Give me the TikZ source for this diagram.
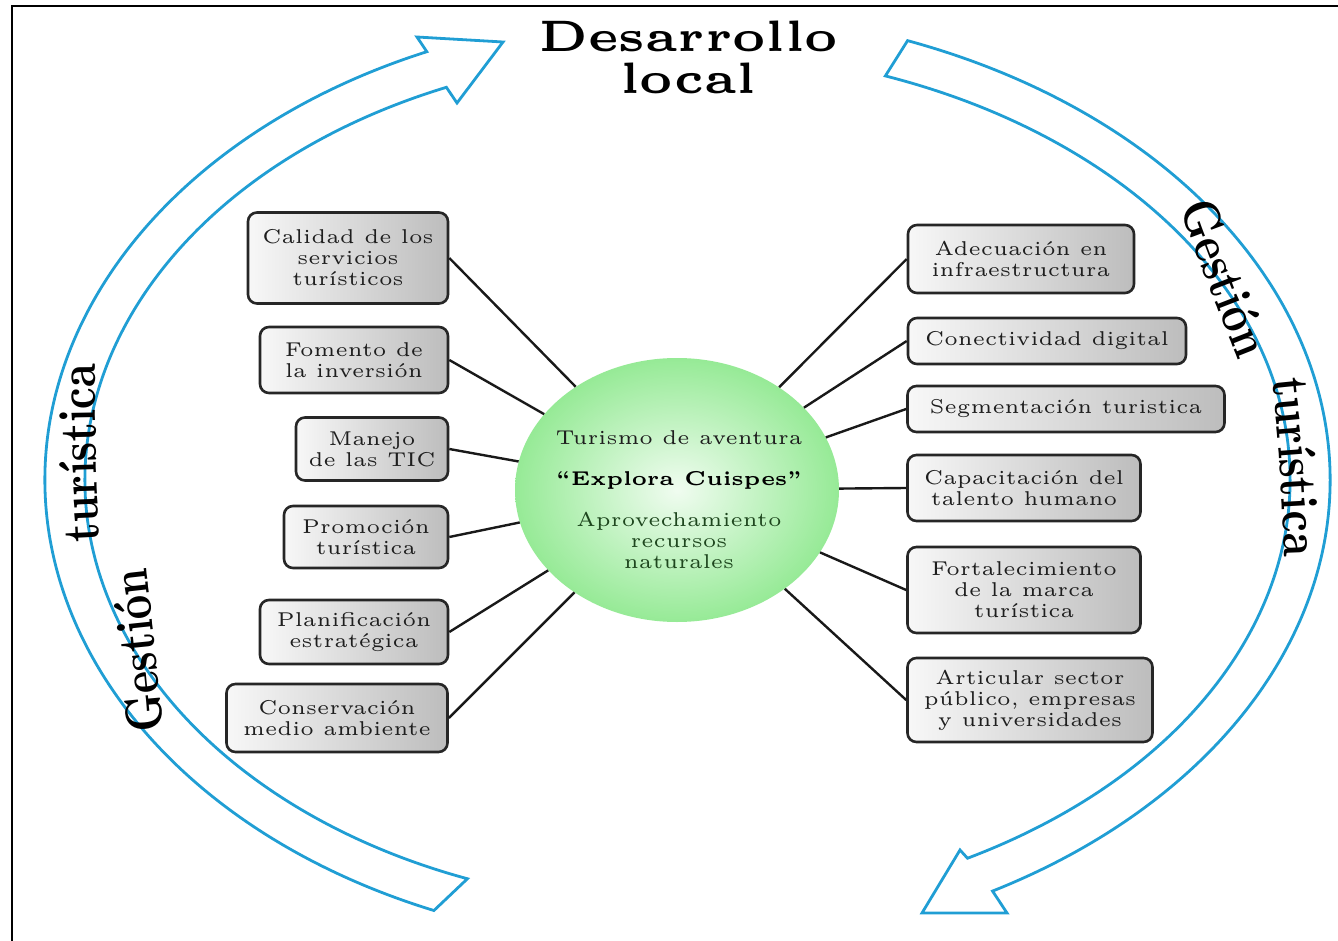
\documentclass[tikz,border=0pt]{standalone}
\usepackage{fontspec}
\newfontfamily\cmsmall{lmroman5-regular.otf}[BoldFont=lmroman5-bold.otf]
\newfontfamily\arcfont{lmroman10-bold.otf}[FakeStretch=0.82]
\usetikzlibrary{shapes.geometric,decorations.text}
\definecolor{arrowblue}{RGB}{32,158,212}
\definecolor{boxtext}{RGB}{30,30,30}
\definecolor{greentext}{RGB}{30,70,30}
\definecolor{ballout}{RGB}{150,234,150}
\definecolor{ballin}{RGB}{240,252,240}
\tikzset{
  box/.style={draw=black!85, line width=2.6pt, rounded corners=9pt,
    left color=gray!6, right color=gray!52, align=center, inner sep=0pt,
    font=\cmsmall\fontsize{20}{21}\selectfont, text=boxtext},
  link/.style={line width=2.4pt, draw=black!90},
  band/.style={draw=arrowblue, line width=2.8pt, line join=miter},
  arctext/.style={decorate, decoration={text along path, text align=center,
    text={|\arcfont\fontsize{52}{52}\selectfont|#1}}}
}
\begin{document}
\begin{tikzpicture}[x=1pt,y=1pt]
\useasboundingbox (0,0) rectangle (1338,-941);
% frame
\draw[line width=2.2pt] (12,-941) -- (12,-6) -- (1338,-6);
% circular arrows
\draw[band] ([shift={(675,-480)}]247.5:630 and 466)
  arc[start angle=247.5, end angle=113.2, x radius=630, y radius=466]
  -- (417,-37) -- (503,-42) -- (457,-103)
  -- ([shift={(675,-480)}]112.8:590 and 426)
  arc[start angle=112.8, end angle=249.4, x radius=590, y radius=426] -- cycle;
\draw[band] ([shift={(675,-480)}]69.2:655 and 470)
  arc[start angle=69.2, end angle=-61, x radius=655, y radius=470]
  -- (1007,-913) -- (922,-913) -- (960,-850)
  -- ([shift={(675,-480)}]-61.6:615 and 430)
  arc[start angle=-61.6, end angle=70, x radius=615, y radius=430] -- cycle;
% arc texts
\path[arctext={Gestión}] (164,-738) .. controls (159,-680) and (153,-620) .. (146,-560);
\path[arctext={turística}] (101,-562) .. controls (97,-500) and (95,-420) .. (95,-343);
\path[arctext={Gestión}] (1176,-198) .. controls (1197,-255) and (1218,-310) .. (1242,-370);
\path[arctext={turística}] (1270,-360) .. controls (1278,-430) and (1283,-500) .. (1285,-577);
% title
\node[font=\cmsmall\bfseries\fontsize{44}{42}\selectfont, align=center] (title) at (688,-57) {Desarrollo\\local};
% center
\node[ellipse, minimum width=324pt, minimum height=264pt, inner color=ballin, outer color=ballout] (c) at (677,-490) {};
\node[align=center, font=\cmsmall\fontsize{20}{21}\selectfont] (ct) at (679,-500)
  {\textcolor{boxtext}{Turismo de aventura}\\[20pt]
   \textbf{“Explora Cuispes”}\\[20pt]
   \textcolor{greentext}{Aprovechamiento}\\
   \textcolor{greentext}{recursos}\\
   \textcolor{greentext}{naturales}};
% left boxes
\node[box, minimum width=200pt, minimum height=91pt] (l1) at (348,-258) {Calidad de los\\servicios\\turísticos};
\node[box, minimum width=188pt, minimum height=66pt] (l2) at (354,-360) {Fomento de\\la inversión};
\node[box, minimum width=152pt, minimum height=63pt] (l3) at (372,-449) {Manejo\\de las TIC};
\node[box, minimum width=164pt, minimum height=62pt] (l4) at (366,-537) {Promoción\\turística};
\node[box, minimum width=188pt, minimum height=64pt] (l5) at (354,-632) {Planificación\\estratégica};
\node[box, minimum width=221pt, minimum height=68pt] (l6) at (337,-718) {Conservación\\medio ambiente};
% right boxes
\node[box, minimum width=226pt, minimum height=68pt] (r1) at (1021,-259) {Adecuación en\\infraestructura};
\node[box, minimum width=278pt, minimum height=46pt] (r2) at (1047,-341) {Conectividad digital};
\node[box, minimum width=317pt, minimum height=46pt] (r3) at (1066,-409) {Segmentación turistica};
\node[box, minimum width=233pt, minimum height=66pt] (r4) at (1024,-488) {Capacitación del\\talento humano};
\node[box, minimum width=233pt, minimum height=86pt] (r5) at (1024,-590) {Fortalecimiento\\de la marca\\turística};
\node[box, minimum width=245pt, minimum height=84pt] (r6) at (1030,-700) {Articular sector\\público, empresas\\y universidades};
% connectors
\foreach \b in {l1,l2,l3,l4,l5,l6} \draw[link] (\b.east) -- (c);
\foreach \b in {r1,r2,r3,r4,r5,r6} \draw[link] (\b.west) -- (c);
\end{tikzpicture}
\end{document}
